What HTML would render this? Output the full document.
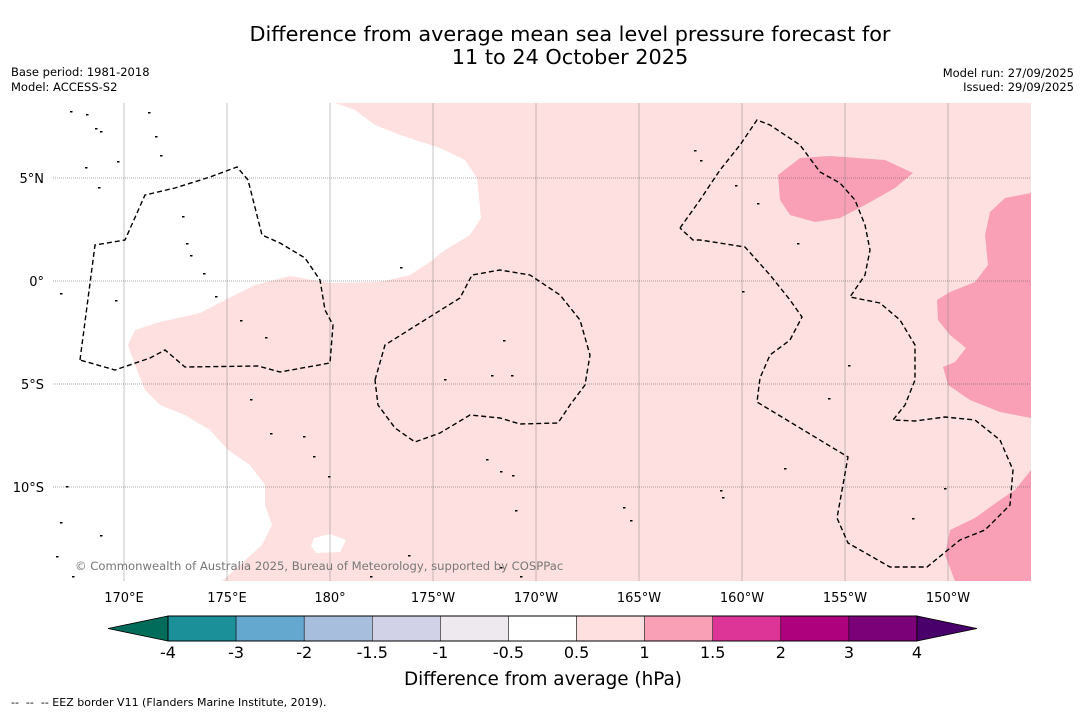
<!DOCTYPE html>
<html><head><meta charset="utf-8"><style>
body{margin:0;background:#fff;font-family:"DejaVu Sans","Liberation Sans",sans-serif;}
svg text{font-family:"DejaVu Sans","Liberation Sans",sans-serif;}
</style></head><body>
<svg id="chart" width="1085" height="713" xmlns="http://www.w3.org/2000/svg">
<rect width="1085" height="713" fill="#fff"/>
<text x="570" y="41" font-size="20.8" text-anchor="middle">Difference from average mean sea level pressure forecast for</text>
<text x="570" y="64" font-size="20.8" text-anchor="middle">11 to 24 October 2025</text>
<text x="11" y="76" font-size="11.5">Base period: 1981-2018</text>
<text x="11" y="91" font-size="11.5">Model: ACCESS-S2</text>
<text x="1074" y="77" font-size="11.5" text-anchor="end">Model run: 27/09/2025</text>
<text x="1074" y="91" font-size="11.5" text-anchor="end">Issued: 29/09/2025</text>
<g id="map"></g>
<g id="cbar"></g>
<text x="543" y="685" font-size="18.4" text-anchor="middle">Difference from average (hPa)</text>
<text x="11" y="706" font-size="11" xml:space="preserve">--  --  -- EEZ border V11 (Flanders Marine Institute, 2019).</text>
</svg>
<script>
const NS="http://www.w3.org/2000/svg";
const levels=["-4","-3","-2","-1.5","-1","-0.5","0.5","1","1.5","2","3","4"];
const levelColors=["#1b9098","#64a8cf","#a8bedd","#d1d2e8","#eee9ee","#ffffff","#fde0df","#f9a0b7","#dd3497","#ae017e","#7a0177"];
const lowExtColor="#016c59", highExtColor="#49006a";
const lonLabels=["170°E","175°E","180°","175°W","170°W","165°W","160°W","155°W","150°W"];
const lonValues=[170,175,180,185,190,195,200,205,210];
const latLabels=["5°N","0°","5°S","10°S"];
const latValues=[5,0,-5,-10];
const X0=53,X1=1031,Y0=103,Y1=581;
const xLon=l=>124+(l-170)*20.6;
const yLat=l=>281-l*20.6;
function mk(tag,attrs,parent){const e=document.createElementNS(NS,tag);for(const k in attrs)e.setAttribute(k,attrs[k]);parent.appendChild(e);return e;}
const map=document.getElementById('map');
const pinkRegion=[[335,103],[355,110],[375,125],[400,135],[440,148],[465,160],[477,178],[481,218],[470,235],[445,250],[430,262],[410,275],[380,282],[330,283],[290,276],[255,285],[225,300],[200,313],[160,322],[135,330],[128,345],[135,365],[145,390],[160,405],[185,415],[210,430],[228,450],[250,465],[265,485],[265,505],[272,525],[262,545],[240,565],[222,581],[1031,581],[1031,103]];
const whiteIsland=[[314,538],[330,534],[346,540],[340,552],[316,553],[311,546]];
const dark1=[[778,175],[800,158],[830,156],[885,160],[913,173],[895,188],[865,205],[840,218],[815,222],[790,215],[780,200]];
const dark2=[[1031,193],[1005,198],[990,212],[985,235],[988,265],[975,282],[950,292],[937,300],[938,320],[950,335],[966,348],[955,362],[943,367],[948,385],[970,400],[1000,412],[1031,418]];
const dark3=[[1031,470],[1015,490],[1000,500],[975,518],[950,530],[945,555],[955,581],[1031,581]];
const eez1=[[80,360],[95,245],[125,240],[145,195],[175,188],[210,177],[237,167],[248,180],[262,235],[280,243],[305,258],[320,280],[325,310],[333,325],[330,363],[280,372],[258,366],[185,367],[165,350],[150,358],[115,370],[80,360]];
const eez2=[[375,380],[385,345],[420,323],[460,298],[472,275],[500,270],[530,275],[560,295],[580,320],[590,355],[585,385],[570,405],[558,423],[520,424],[500,418],[470,415],[440,433],[415,442],[395,428],[378,405],[375,380]];
const eez3=[[680,228],[700,200],[720,170],[740,145],[757,120],[770,125],[800,145],[820,172],[840,183],[855,200],[865,225],[870,250],[865,275],[850,297],[880,303],[900,320],[915,345],[915,380],[905,405],[893,420],[915,421],[945,417],[975,420],[1000,440],[1013,470],[1010,505],[985,530],[960,540],[927,567],[890,567],[848,543],[837,518],[848,457],[757,402],[760,378],[770,355],[790,340],[802,317],[790,300],[770,275],[745,247],[700,240],[693,240],[680,228]];
const islands=[[70,111],[86,114],[95,128],[100,131],[148,112],[155,136],[160,155],[117,161],[85,167],[98,187],[182,216],[186,243],[190,255],[203,273],[215,296],[240,320],[265,337],[400,267],[444,379],[503,340],[491,375],[511,375],[250,399],[270,433],[303,436],[313,456],[328,476],[486,459],[500,471],[512,475],[515,510],[408,555],[60,293],[115,300],[66,486],[60,522],[100,535],[56,556],[72,576],[694,150],[700,160],[735,185],[757,203],[797,243],[742,291],[848,365],[828,398],[784,468],[720,490],[722,497],[623,507],[630,520],[912,518],[944,488],[500,567],[520,576],[370,576]];
const pts=a=>a.map(p=>p.join(',')).join(' ');
const clip=mk('clipPath',{id:'mc'},map);mk('rect',{x:X0,y:Y0,width:X1-X0,height:Y1-Y0},clip);
const g=mk('g',{'clip-path':'url(#mc)'},map);
let e;
e=mk('polygon',{points:pts(pinkRegion),fill:levelColors[6]},g);


e=mk('polygon',{points:pts(whiteIsland),fill:'#fff'},g);


[dark1,dark2,dark3].forEach(d=>{e=mk('polygon',{points:pts(d),fill:levelColors[7]},g);

});
lonValues.forEach(v=>{e=mk('line',{x1:xLon(v),x2:xLon(v),y1:Y0,y2:Y1,stroke:'#888','stroke-width':0.5},g);

});
latValues.forEach(v=>{e=mk('line',{x1:X0,x2:X1,y1:yLat(v),y2:yLat(v),stroke:'#555','stroke-width':0.6,'stroke-dasharray':'1,1'},g);

});
islands.forEach(p=>{e=mk('rect',{x:p[0],y:p[1],width:2.5,height:1.5,fill:'#000'},g);

});
[eez1,eez2,eez3].forEach(d=>{e=mk('polyline',{points:pts(d),fill:'none',stroke:'#000','stroke-width':1.4,'stroke-dasharray':'5,3'},g);

});
e=mk('text',{x:75,y:570,'font-size':11.6,fill:'#777'},g);e.textContent='© Commonwealth of Australia 2025, Bureau of Meteorology, supported by COSPPac';


lonValues.forEach((v,i)=>{e=mk('text',{x:xLon(v),y:602,'font-size':13,'text-anchor':'middle'},map);e.textContent=lonLabels[i];

});
latValues.forEach((v,i)=>{e=mk('text',{x:44,y:yLat(v)+5,'font-size':13,'text-anchor':'end'},map);e.textContent=latLabels[i];

});
const cb=document.getElementById('cbar');
const CB0=168,CB1=917,CY=616,CH=25,bw=(CB1-CB0)/levelColors.length;
e=mk('polygon',{points:`${CB0},${CY} ${CB0},${CY+CH} 108,${CY+CH/2}`,fill:lowExtColor,stroke:'#000','stroke-width':0.8},cb);


e=mk('polygon',{points:`${CB1},${CY} ${CB1},${CY+CH} 977,${CY+CH/2}`,fill:highExtColor,stroke:'#000','stroke-width':0.8},cb);


levelColors.forEach((c,i)=>{e=mk('rect',{x:CB0+i*bw,y:CY,width:bw,height:CH,fill:c,stroke:'#000','stroke-width':0.5},cb);

});
mk('rect',{x:CB0,y:CY,width:CB1-CB0,height:CH,fill:'none',stroke:'#000','stroke-width':1},cb);
levels.forEach((l,i)=>{e=mk('text',{x:CB0+i*bw,y:658,'font-size':16,'text-anchor':'middle'},cb);e.textContent=l;

});
</script>
</body></html>
